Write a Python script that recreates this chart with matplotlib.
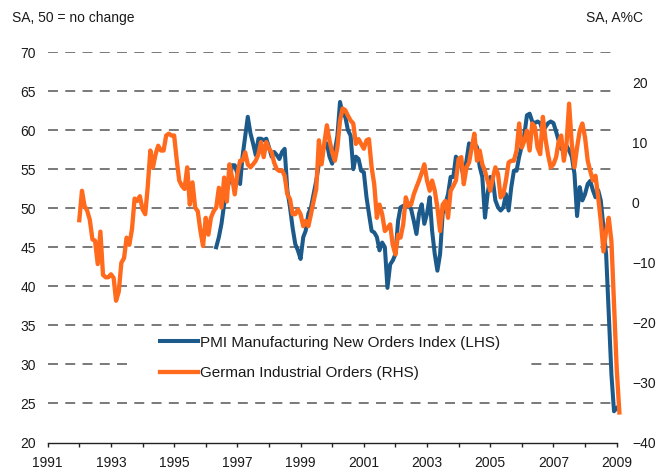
import numpy as np
import pandas as pd
import matplotlib
matplotlib.use("Agg")
import matplotlib.pyplot as plt
import matplotlib.transforms as mtransforms
from matplotlib.patches import Rectangle

plt.rcParams['font.family'] = ['Liberation Sans', 'DejaVu Sans']

# --- data (monthly) ---
# PMI manufacturing new orders index, LHS, from May 1996
pmi_start = "1996-05"
pmi_new_orders = [
    45.0, 46.3, 48.0, 50.5, 52.3, 53.5, 55.5, 55.5, 54.4, 53.1,
    56.6, 59.2, 61.7, 59.6, 58.3, 56.8, 58.9, 58.9, 58.7, 58.9,
    57.8, 56.6, 57.2, 56.8, 56.3, 57.2, 57.6, 52.3, 50.1, 47.5,
    45.4, 44.6, 43.5, 46.3, 47.1, 49.3, 50.1, 51.8, 53.5, 55.7,
    57.6, 57.8, 58.3, 56.6, 55.7, 57.4, 59.2, 63.6, 62.1, 61.7,
    60.0, 59.3, 55.0, 56.6, 56.3, 54.8, 54.6, 51.4, 49.3, 47.1,
    46.9, 46.3, 44.6, 45.6, 45.0, 39.8, 42.8, 43.3, 44.1, 48.4,
    50.1, 50.3, 50.1, 50.3, 49.9, 48.4, 46.7, 49.3, 50.5, 48.0,
    49.3, 51.4, 47.1, 44.1, 42.0, 44.1, 49.3, 50.5, 51.8, 54.0,
    54.0, 56.6, 56.1, 55.3, 54.0, 56.1, 58.3, 57.8, 58.3, 57.8,
    55.3, 54.0, 48.8, 51.8, 54.0, 53.5, 51.0, 50.1, 49.7, 50.1,
    51.8, 49.7, 52.7, 54.8, 54.8, 56.6, 58.0, 59.6, 61.9, 62.1,
    61.1, 60.9, 61.1, 60.9, 59.8, 60.4, 60.9, 61.1, 60.9, 59.8,
    58.7, 57.6, 57.4, 58.0, 57.4, 56.6, 54.4, 49.0, 52.7, 51.0,
    51.8, 53.1, 53.5, 52.3, 51.4, 52.3, 51.0, 47.5, 44.1, 36.4,
    28.7, 24.0, 24.4,
]

# German industrial orders, % y/y, RHS, from Jan 1992
ger_start = "1992-01"
ger_orders = [
    -3.0, 1.9, -0.6, -1.4, -2.9, -6.2, -6.4, -10.3, -4.9, -12.1,
    -12.5, -12.5, -12.0, -12.6, -16.4, -14.9, -10.1, -9.3, -5.9, -7.1,
    -4.5, 0.6, 0.2, 1.0, -1.2, -2.0, 2.4, 8.6, 5.8, 8.0,
    9.4, 8.6, 8.6, 11.1, 11.4, 11.1, 11.1, 6.9, 3.6, 2.7,
    2.2, 5.8, -0.4, 3.3, -0.9, -1.5, -4.8, -7.3, -2.6, -5.4,
    -2.6, -1.5, -0.9, 2.4, -0.9, 4.1, 0.1, 6.3, 4.1, 1.3,
    4.7, 6.9, 6.9, 8.3, 6.3, 5.8, 6.3, 6.9, 8.0, 10.0,
    7.5, 10.0, 8.9, 8.3, 6.6, 5.5, 5.2, 5.3, 4.4, 1.3,
    0.5, -2.0, -2.0, -1.2, -2.0, -4.0, -3.1, -4.0, -2.0, 0.2,
    2.2, 10.3, 6.3, 9.7, 12.8, 10.3, 8.3, 6.9, 9.1, 13.6,
    15.6, 15.3, 14.4, 13.6, 13.1, 9.7, 10.5, 9.7, 8.9, 10.3,
    10.5, 5.8, 3.0, -2.6, -0.4, -2.0, -4.8, -4.3, -3.7, -7.1,
    -8.7, -5.4, -5.9, -3.7, 0.8, -0.6, -0.4, 1.3, 2.5, 3.6,
    4.9, 6.3, 3.6, 1.9, 3.6, 1.9, -0.9, -4.8, -0.4, 0.2,
    -2.6, 1.9, 2.7, 3.6, 7.2, 7.5, 3.0, 5.8, 6.6, 9.1,
    11.4, 6.9, 8.6, 6.3, 5.2, 3.6, 1.9, 4.1, 5.8, 4.7,
    0.8, 1.3, 3.6, 6.6, 6.9, 6.9, 8.6, 13.1, 9.1, 10.3,
    11.9, 8.6, 13.1, 12.5, 9.1, 8.0, 14.2, 10.5, 7.8, 5.8,
    6.3, 7.5, 10.0, 11.1, 6.9, 9.7, 16.4, 9.7, 5.8, 9.1,
    11.9, 13.1, 10.8, 6.9, 5.2, 3.6, 4.4, 0.8, -3.1, -8.2,
    -4.8, -2.6, -6.5, -17.0, -27.7, -35.0,
]

left_ticks = [20, 25, 30, 35, 40, 45, 50, 55, 60, 65, 70]
right_ticks = [-40, -30, -20, -10, 0, 10, 20]
year_ticks = pd.date_range("1991-01-01", "2009-01-01", freq="YS")
year_labels = [str(d.year) if d.year % 2 == 1 else "" for d in year_ticks]

pmi_dates = pd.date_range(pmi_start, periods=len(pmi_new_orders), freq="MS")
ger_dates = pd.date_range(ger_start, periods=len(ger_orders), freq="MS")

BLUE = "#1B5A8A"
ORANGE = "#FF6A1C"
TXT = "#1a1a1a"

fig = plt.figure(figsize=(6.66, 4.70), dpi=100)
ax = fig.add_axes([47.7 / 666, 1 - 442.5 / 470, 569 / 666, 390.5 / 470])
ax2 = ax.twinx()

# dashed gridlines on the left scale
for v in left_ticks[1:]:
    ax.axhline(v, color="#555555", lw=1.1, ls=(0, (6.5, 4.8)), zorder=1)

ax.plot(pmi_dates, pmi_new_orders, color=BLUE, lw=2.9, solid_joinstyle="round",
        zorder=3, clip_on=False, label="PMI Manufacturing New Orders Index (LHS)")
ax2.plot(ger_dates, ger_orders, color=ORANGE, lw=3.1, solid_joinstyle="round",
         zorder=3, clip_on=False, label="German Industrial Orders (RHS)")

ax.set_xlim(year_ticks[0], year_ticks[-1])
ax.set_ylim(20, 70)
ax2.set_ylim(-40, 25)
ax.set_yticks(left_ticks)
ax2.set_yticks(right_ticks)
ax.set_xticks(year_ticks)
ax.set_xticklabels(year_labels)

for a in (ax, ax2):
    for s in ("top", "left", "right"):
        a.spines[s].set_visible(False)
ax2.spines["bottom"].set_visible(False)
ax.spines["bottom"].set_color("#222222")
ax.spines["bottom"].set_linewidth(1.0)

ax.tick_params(axis="x", direction="out", length=3, width=1, color="#222222",
               pad=7, labelsize=10, labelcolor=TXT)
ax.tick_params(axis="y", length=0, pad=8.5, labelsize=10, labelcolor=TXT)
ax2.tick_params(axis="y", length=0, pad=11, labelsize=10, labelcolor=TXT)

# white box behind the legend hides the gridline
trans = mtransforms.blended_transform_factory(ax.transAxes, ax.transData)
ax.add_patch(Rectangle(((128 - 47.7) / 569, 26.3), 400 / 569, 8.0,
                       transform=trans, facecolor="white", edgecolor="none", zorder=2))

h1, l1 = ax.get_legend_handles_labels()
h2, l2 = ax2.get_legend_handles_labels()
ax2.legend(h1 + h2, l1 + l2, loc="center left",
           bbox_to_anchor=(160 / 666, 1 - 358 / 470), bbox_transform=fig.transFigure,
           frameon=False, fontsize=11, handlelength=2.5, handletextpad=0.15,
           labelspacing=1.1, borderpad=0, borderaxespad=0, labelcolor=TXT)

fig.text(12 / 666, 1 - 18 / 470, "SA, 50 = no change", fontsize=10, color=TXT,
         ha="left", va="center")
fig.text(643 / 666, 1 - 18 / 470, "SA, A%C", fontsize=10, color=TXT,
         ha="right", va="center")

fig.savefig("out.png", dpi=100)
